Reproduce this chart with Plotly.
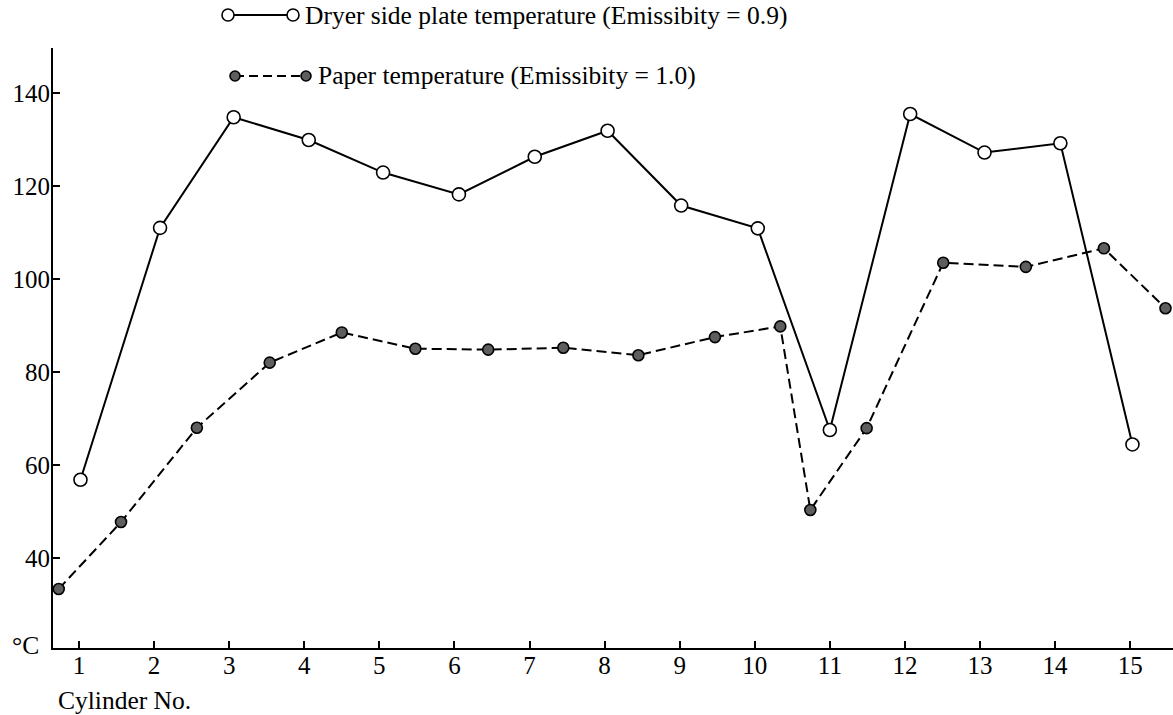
import plotly.graph_objects as go

# ---- data ----
cylinder_ticks = list(range(1, 16))
y_ticks = [40, 60, 80, 100, 120, 140]

dryer_x = [1.02, 2.08, 3.06, 4.06, 5.05, 6.06, 7.07, 8.04, 9.02, 10.04, 11.0, 12.07, 13.06, 14.07, 15.03]
dryer_temp = [56.8, 111.0, 134.8, 129.9, 122.9, 118.2, 126.3, 131.9, 115.8, 110.9, 67.5, 135.5, 127.2, 129.2, 64.4]

paper_x = [0.73, 1.56, 2.57, 3.54, 4.50, 5.48, 6.45, 7.45, 8.45, 9.47, 10.34, 10.74, 11.49, 12.51, 13.61, 14.65, 15.47]
paper_temp = [33.3, 47.7, 68.0, 82.0, 88.5, 85.0, 84.8, 85.2, 83.6, 87.5, 89.8, 50.3, 67.9, 103.5, 102.6, 106.6, 93.7]

dryer_label = "Dryer side plate temperature (Emissibity = 0.9)"
paper_label = "Paper temperature (Emissibity = 1.0)"

FONT = "Liberation Serif"
FS = 25.5
TFS = 25

fig = go.Figure()

fig.add_trace(go.Scatter(
    x=dryer_x, y=dryer_temp, mode="lines+markers", name=dryer_label,
    line=dict(color="black", width=2),
    marker=dict(symbol="circle", size=13, color="white", line=dict(color="black", width=1.6)),
    showlegend=False, cliponaxis=False,
))
fig.add_trace(go.Scatter(
    x=paper_x, y=paper_temp, mode="lines+markers", name=paper_label,
    line=dict(color="black", width=2, dash="10px,5px"),
    marker=dict(symbol="circle", size=11, color="#5e5e5e", line=dict(color="black", width=1.6)),
    showlegend=False, cliponaxis=False,
))

L, R, T, B = 53, 0, 48, 67
W, H = 1173, 715
PW, PH = W - L - R, H - T - B


def px(xp):
    return (xp - L) / PW


def py(yp):
    return (H - B - yp) / PH


shapes = []
annotations = []

# custom legend: line with a marker at both ends, as in the reference
legend_rows = [
    dict(x0=228, x1=293, y=15, dash="solid", fill="white", size=6, text=dryer_label, tx=303),
    dict(x0=235, x1=306, y=76, dash="9px,5px", fill="#5e5e5e", size=5, text=paper_label, tx=316),
]
for row in legend_rows:
    shapes.append(dict(type="line", xref="paper", yref="paper",
                       x0=px(row["x0"]), x1=px(row["x1"]), y0=py(row["y"]), y1=py(row["y"]),
                       line=dict(color="black", width=1.8, dash=row["dash"])))
    for xc in (row["x0"], row["x1"]):
        s = row["size"]
        shapes.append(dict(type="circle", xref="paper", yref="paper",
                           xsizemode="pixel", ysizemode="pixel",
                           xanchor=px(xc), yanchor=py(row["y"]),
                           x0=-s, x1=s, y0=-s, y1=s,
                           fillcolor=row["fill"], line=dict(color="black", width=1.6)))
    annotations.append(dict(xref="paper", yref="paper", x=px(row["tx"]), y=py(row["y"]),
                            xanchor="left", yanchor="middle", showarrow=False,
                            text=row["text"], font=dict(family=FONT, size=FS, color="black")))

annotations.append(dict(xref="paper", yref="paper", x=0, y=py(645), xanchor="right", yanchor="middle",
                        xshift=-12, showarrow=False, text="°C",
                        font=dict(family=FONT, size=FS, color="black")))
annotations.append(dict(xref="paper", yref="paper", x=px(56), y=py(700), xanchor="left", yanchor="middle",
                        showarrow=False, text="Cylinder No.",
                        font=dict(family=FONT, size=FS, color="black")))

fig.update_layout(
    width=W, height=H, autosize=False,
    margin=dict(l=L, r=R, t=T, b=B, pad=0),
    paper_bgcolor="white", plot_bgcolor="white",
    font=dict(family=FONT, size=FS, color="black"),
    shapes=shapes, annotations=annotations,
    xaxis=dict(range=[0.654, 15.57], tickvals=cylinder_ticks, ticks="inside", ticklen=7, tickwidth=1.5,
               tickcolor="black", showline=True, linewidth=2, linecolor="black", ticklabelstandoff=-6,
               showgrid=False, zeroline=False, tickfont=dict(family=FONT, size=TFS, color="black")),
    yaxis=dict(range=[20.6, 149.7], tickvals=y_ticks, ticks="inside", ticklen=7, tickwidth=1.5,
               tickcolor="black", showline=True, linewidth=2, linecolor="black", ticklabelstandoff=-4,
               showgrid=False, zeroline=False, tickfont=dict(family=FONT, size=TFS, color="black")),
)

fig.write_html("out.html")
